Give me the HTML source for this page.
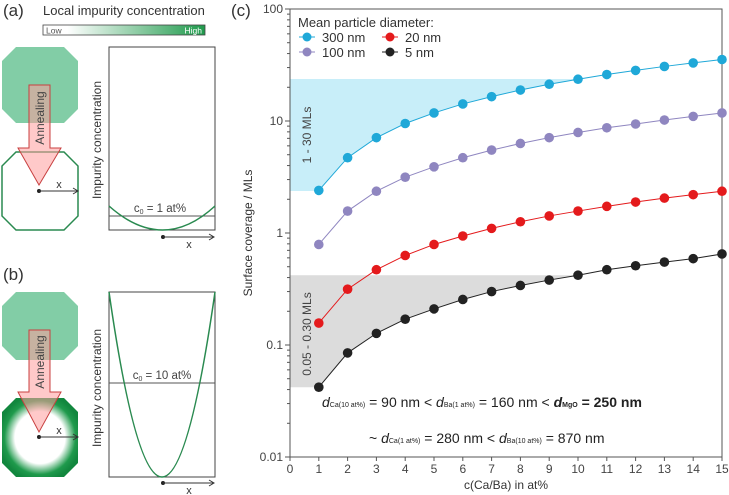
<!DOCTYPE html>
<html><head><meta charset="utf-8"><style>
body{margin:0;background:#fff}
svg{display:block;font-family:"Liberation Sans",sans-serif}
</style></head><body>
<svg id="fig" width="729" height="495" viewBox="0 0 729 495">
<defs>
<linearGradient id="gbar" x1="0" x2="1" y1="0" y2="0"><stop offset="0" stop-color="#fff"/><stop offset="0.15" stop-color="#fff"/><stop offset="1" stop-color="#1f9a4c"/></linearGradient>
<radialGradient id="rg" cx="0.5" cy="0.5" r="0.55"><stop offset="0.6" stop-color="#fff"/><stop offset="0.85" stop-color="#1f9a4c"/><stop offset="1" stop-color="#12873e"/></radialGradient>
</defs>
<g>
<text x="3" y="16" font-size="17" fill="#333">(a)</text>
<text x="43" y="15" font-size="13" fill="#333">Local impurity concentration</text>
<rect x="43" y="25" width="162" height="10" fill="url(#gbar)" stroke="#444" stroke-width="0.8"/>
<text x="46" y="33.5" font-size="8.5" fill="#555">Low</text>
<text x="202" y="33.5" font-size="8.5" fill="#fff" text-anchor="end">High</text>
<polygon points="16,47 64,47 78,61 78,109 64,123 16,123 2,109 2,61" fill="#6cc496" opacity="0.85"/>
<polygon points="16,152 64,152 78,166 78,216 64,230 16,230 2,216 2,166" fill="#fff" stroke="#2a8a50" stroke-width="1.5"/>
<polygon points="29,85 50,85 50,148 61,148 39,185 18,148 29,148" fill="#ff9d9d" fill-opacity="0.55" stroke="#c84040" stroke-width="1"/>
<text transform="translate(41,118) rotate(-90)" font-size="12" fill="#444" text-anchor="middle" dominant-baseline="middle">Annealing</text>
<circle cx="39" cy="191" r="2" fill="#222"/><line x1="39" y1="191" x2="77" y2="191" stroke="#333"/><path d="M73,188 L78,191 L73,194" fill="none" stroke="#333"/>
<text x="59" y="188" font-size="11" fill="#333" text-anchor="middle">x</text>
<rect x="109" y="47" width="106" height="183" fill="none" stroke="#444"/>
<line x1="109" y1="216" x2="215" y2="216" stroke="#555"/>
<path d="M109,206 Q163,254 215,206" fill="none" stroke="#2a8a50" stroke-width="1.5"/>
<text x="160" y="212" font-size="11.5" fill="#444" text-anchor="middle">c<tspan font-size="7" dy="2">0</tspan><tspan dy="-2"> = 1 at%</tspan></text>
<text transform="translate(101,140) rotate(-90)" font-size="12" fill="#333" text-anchor="middle">Impurity concentration</text>
<circle cx="163" cy="237" r="2" fill="#222"/><line x1="163" y1="237" x2="213" y2="237" stroke="#333"/><path d="M209,234 L214,237 L209,240" fill="none" stroke="#333"/>
<text x="189" y="248" font-size="11" fill="#333" text-anchor="middle">x</text>
</g>
<g>
<text x="3" y="280" font-size="17" fill="#333">(b)</text>
<polygon points="16,292 64,292 78,306 78,346 64,360 16,360 2,346 2,306" fill="#6cc496" opacity="0.85"/>
<polygon points="16,398 64,398 78,412 78,463 64,477 16,477 2,463 2,412" fill="url(#rg)"/>
<polygon points="29,330 50,330 50,392 61,392 39,432 18,392 29,392" fill="#ff9d9d" fill-opacity="0.55" stroke="#c84040" stroke-width="1"/>
<text transform="translate(41,362) rotate(-90)" font-size="12" fill="#444" text-anchor="middle" dominant-baseline="middle">Annealing</text>
<circle cx="39" cy="437" r="2" fill="#222"/><line x1="39" y1="437" x2="77" y2="437" stroke="#333"/><path d="M73,434 L78,437 L73,440" fill="none" stroke="#333"/>
<text x="59" y="434" font-size="11" fill="#333" text-anchor="middle">x</text>
<rect x="109" y="292" width="106" height="185" fill="none" stroke="#444"/>
<line x1="109" y1="383" x2="215" y2="383" stroke="#555"/>
<path d="M109,292 Q162,662 215,292" fill="none" stroke="#2a8a50" stroke-width="1.5"/>
<text x="162" y="379" font-size="11.5" fill="#444" text-anchor="middle">c<tspan font-size="7" dy="2">0</tspan><tspan dy="-2"> = 10 at%</tspan></text>
<text transform="translate(101,388) rotate(-90)" font-size="12" fill="#333" text-anchor="middle">Impurity concentration</text>
<circle cx="163" cy="483" r="2" fill="#222"/><line x1="163" y1="483" x2="213" y2="483" stroke="#333"/><path d="M209,480 L214,483 L209,486" fill="none" stroke="#333"/>
<text x="189" y="494" font-size="11" fill="#333" text-anchor="middle">x</text>
</g>
<g id="chart">
<text x="231" y="16" font-size="17" fill="#333">(c)</text>
</g>
</svg>
<script>
const xValues = [1,2,3,4,5,6,7,8,9,10,11,12,13,14,15];
const s300 = [2.4,4.7,7.1,9.5,11.8,14.2,16.5,18.9,21.3,23.6,26,28.3,30.7,33,35.4];
const s100 = [0.79,1.57,2.36,3.15,3.9,4.7,5.5,6.3,7.1,7.9,8.7,9.4,10.2,11,11.8];
const s20 = [0.157,0.315,0.47,0.63,0.79,0.94,1.1,1.26,1.42,1.57,1.73,1.89,2.05,2.2,2.36];
const s5 = [0.042,0.085,0.127,0.17,0.21,0.255,0.3,0.34,0.38,0.42,0.47,0.51,0.55,0.59,0.65];
const xTicks = [0,1,2,3,4,5,6,7,8,9,10,11,12,13,14,15];
const yTicks = [0.01,0.1,1,10,100];
const yTickLabels = ["0.01","0.1","1","10","100"];
const blueBand = [2.37,23.7];
const grayBand = [0.042,0.42];
const NS='http://www.w3.org/2000/svg';
const g=document.getElementById('chart');
const L=290,R=722,T=9,B=457;
const X=v=>L+(v-0)/15*(R-L);
const Y=v=>B-(Math.log10(v)+2)/4*(B-T);
function el(t,a,p){const e=document.createElementNS(NS,t);for(const k in a)e.setAttribute(k,a[k]);(p||g).appendChild(e);return e;}
function band(series,lo,hi,fill,name){
  let pts=[[X(0),Y(hi)]];
  let i=0;while(i<series.length-1&&series[i+1]<hi)i++;
  let xs=xValues[i]+(Math.log10(hi)-Math.log10(series[i]))/(Math.log10(series[i+1])-Math.log10(series[i]))*(xValues[i+1]-xValues[i]);
  pts.push([X(xs),Y(hi)]);
  for(let j=i;j>=0;j--)pts.push([X(xValues[j]),Y(series[j])]);
  pts.push([X(xValues[0]),Y(lo)]);pts.push([X(0),Y(lo)]);
  const p=el('polygon',{points:pts.map(q=>q.join(',')).join(' '),fill:fill});
  
  
}
band(s300,blueBand[0],blueBand[1],'#c8eef9','band-1-30-mls');
band(s5,grayBand[0],grayBand[1],'#dcdcdc','band-005-030-mls');
const fr=el('rect',{x:L,y:T,width:R-L,height:B-T,fill:'none',stroke:'#555','stroke-width':1});


xTicks.forEach(t=>{
  el('line',{x1:X(t),x2:X(t),y1:B,y2:B+4,stroke:'#555'});
  const tx=el('text',{x:X(t),y:B+16,'font-size':12,fill:'#444','text-anchor':'middle'});tx.textContent=t;
  
  
});
yTicks.forEach((t,i)=>{
  el('line',{x1:L-5,x2:L,y1:Y(t),y2:Y(t),stroke:'#555'});
  const tx=el('text',{x:L-7,y:Y(t)+4,'font-size':12,fill:'#444','text-anchor':'end'});tx.textContent=yTickLabels[i];
  
  
  if(i<yTicks.length-1)for(let m=2;m<10;m++)el('line',{x1:L-3,x2:L,y1:Y(t*m),y2:Y(t*m),stroke:'#555'});
});
const series=[[s300,'#1fa8d8','series-300nm'],[s100,'#8f86c0','series-100nm'],[s20,'#e41a1c','series-20nm'],[s5,'#222','series-5nm']];
series.forEach(([s,c,n])=>{
  const ln=el('polyline',{points:s.map((v,i)=>X(xValues[i])+','+Y(v)).join(' '),fill:'none',stroke:c,'stroke-width':1});
  
  
  s.forEach((v,i)=>{const d=el('circle',{cx:X(xValues[i]),cy:Y(v),r:4.8,fill:c});
    
    });
});
function txt(x,y,s,a,name){const t=el('text',Object.assign({x:x,y:y},a));t.innerHTML=s;return t;}
txt(298,27,'Mean particle diameter:',{'font-size':13,fill:'#333'},'legend-title');
const leg=[[307,37,'#1fa8d8','300 nm'],[390,37,'#e41a1c','20 nm'],[307,52,'#8f86c0','100 nm'],[390,52,'#222','5 nm']];
leg.forEach(([x,y,c,l])=>{el('line',{x1:x-8,x2:x+8,y1:y,y2:y,stroke:c});el('circle',{cx:x,cy:y,r:4.5,fill:c});
  txt(x+15,y+5,l,{'font-size':13,fill:'#333'},'legend-entry');});
txt(0,0,'1 - 30 MLs',{'font-size':12,fill:'#444','text-anchor':'middle',transform:'translate(311,135) rotate(-90)'},'band-label-blue');
txt(0,0,'0.05 - 0.30 MLs',{'font-size':12,fill:'#444','text-anchor':'middle',transform:'translate(311,334) rotate(-90)'},'band-label-gray');
txt(322,407,'<tspan font-style="italic">d</tspan><tspan font-size="7">Ca(10 at%)</tspan> = 90 nm &lt; <tspan font-style="italic">d</tspan><tspan font-size="7">Ba(1 at%)</tspan> = 160 nm &lt; <tspan font-weight="bold" font-style="italic">d</tspan><tspan font-size="7" font-weight="bold">MgO</tspan><tspan font-weight="bold"> = 250 nm</tspan>',{'font-size':14,fill:'#222'},'annotation-line-1');
txt(369,443,'~ <tspan font-style="italic">d</tspan><tspan font-size="7">Ca(1 at%)</tspan> = 280 nm &lt; <tspan font-style="italic">d</tspan><tspan font-size="7">Ba(10 at%)</tspan> = 870 nm',{'font-size':14,fill:'#222'},'annotation-line-2');
txt(506,489,'c(Ca/Ba) in at%',{'font-size':12,fill:'#333','text-anchor':'middle'},'x-axis-title');
txt(0,0,'Surface coverage / MLs',{'font-size':12,fill:'#333','text-anchor':'middle',transform:'translate(252,233) rotate(-90)'},'y-axis-title');
</script>
</body></html>
